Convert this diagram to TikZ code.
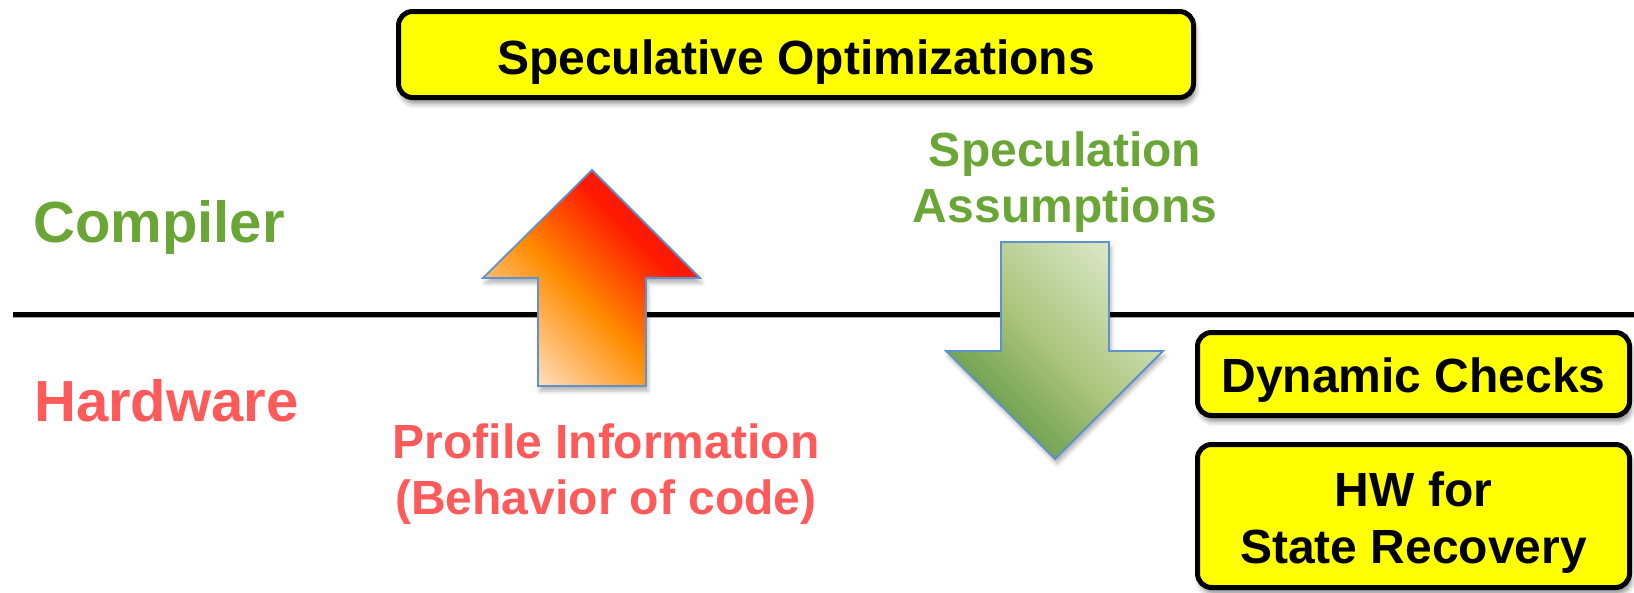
\documentclass[tikz,border=0pt]{standalone}
\usepackage{fontspec}
\setmainfont{Liberation Sans}
\usetikzlibrary{shadows.blur}

\definecolor{hwred}{RGB}{255,90,90}
\definecolor{cmpgreen}{RGB}{106,166,53}
\definecolor{boxyellow}{RGB}{255,255,0}
\definecolor{arrowedge}{RGB}{95,145,205}
\definecolor{upred}{RGB}{255,25,0}
\definecolor{uporange}{RGB}{255,140,0}
\definecolor{uppeach}{RGB}{255,228,205}
\definecolor{dnlight}{RGB}{216,229,196}
\definecolor{dnmid}{RGB}{172,197,124}
\definecolor{dndark}{RGB}{92,150,68}

% diagonal fills of the two flow arrows
\pgfdeclareverticalshading{upflow}{100bp}{color(0bp)=(uppeach); color(22bp)=(uppeach);
  color(45bp)=(uporange); color(64bp)=(upred); color(100bp)=(upred)}
\pgfdeclareverticalshading{downflow}{100bp}{color(0bp)=(dndark); color(25bp)=(dndark);
  color(50bp)=(dnmid); color(75bp)=(dnlight); color(100bp)=(dnlight)}

\tikzset{
  layerlabel/.style={font=\fontsize{58}{66}\selectfont\bfseries, inner sep=0pt, anchor=base west},
  flowlabel/.style={font=\fontsize{48}{56}\selectfont\bfseries, align=center, inner sep=0pt},
  yellowbox/.style={draw=black, line width=5pt, rounded corners=14pt, fill=boxyellow, inner sep=0pt,
    blur shadow={shadow xshift=2pt, shadow yshift=-6pt, shadow blur radius=5pt, shadow opacity=45}},
  boxtext/.style={font=\fontsize{48}{57}\selectfont\bfseries, align=center, inner sep=0pt},
  bigarrow/.style={draw=arrowedge, line width=1.8pt, line join=miter,
    blur shadow={shadow xshift=2pt, shadow yshift=-5pt, shadow blur radius=4pt, shadow opacity=30}},
  divider/.style={line width=5pt, draw=black},
}

\begin{document}
\begin{tikzpicture}[x=1pt, y=-1pt]
  \useasboundingbox (0,0) rectangle (1634,592);

  % layer boundary between compiler and hardware
  \coordinate (divL) at (13,314.5);
  \coordinate (divR) at (1634,314.5);
  \draw[line width=2pt, draw=gray!70] ([yshift=-2.5pt]divL) -- ([yshift=-2.5pt]divR);
  \draw[divider] (divL) -- (divR);

  % layer names
  \node[layerlabel, text=cmpgreen] (compiler) at (33,242) {Compiler};
  \node[layerlabel, text=hwred] (hardware) at (34,421) {Hardware};

  % profile information flowing up
  \path[bigarrow, shading=upflow, shading angle=-45]
    (538,386) -- (538,278) -- (483,278) -- (592,170) -- (700,278) -- (646,278) -- (646,386) -- cycle;

  % speculation assumptions flowing down
  \path[bigarrow, shading=downflow, shading angle=-45]
    (1001,242) -- (1109,242) -- (1109,351) -- (1163,351) -- (1055,459) -- (946,351) -- (1001,351) -- cycle;

  % labels of the two flows
  \node[flowlabel, text=cmpgreen] (assume) at (1065,182) {Speculation\\Assumptions};
  \node[flowlabel, text=hwred] (profile) at (606,474) {Profile Information\\(Behavior of code)};

  % yellow boxes
  \node[yellowbox, minimum width=795pt, minimum height=86pt] (specopt) at (796,54.5) {};
  \node[yellowbox, minimum width=432pt, minimum height=83pt] (dyn) at (1413.5,374) {};
  \node[yellowbox, minimum width=432pt, minimum height=143pt] (hwrec) at (1413.5,516) {};

  \node[boxtext] (specopt-t) at ([yshift=-8pt]specopt.center) {Speculative Optimizations};
  \node[boxtext] (dyn-t) at ([yshift=-6pt]dyn.center) {Dynamic Checks};
  \node[boxtext] (hwrec-t) at ([yshift=-7pt]hwrec.center) {HW for\\State Recovery};
\end{tikzpicture}
\end{document}
